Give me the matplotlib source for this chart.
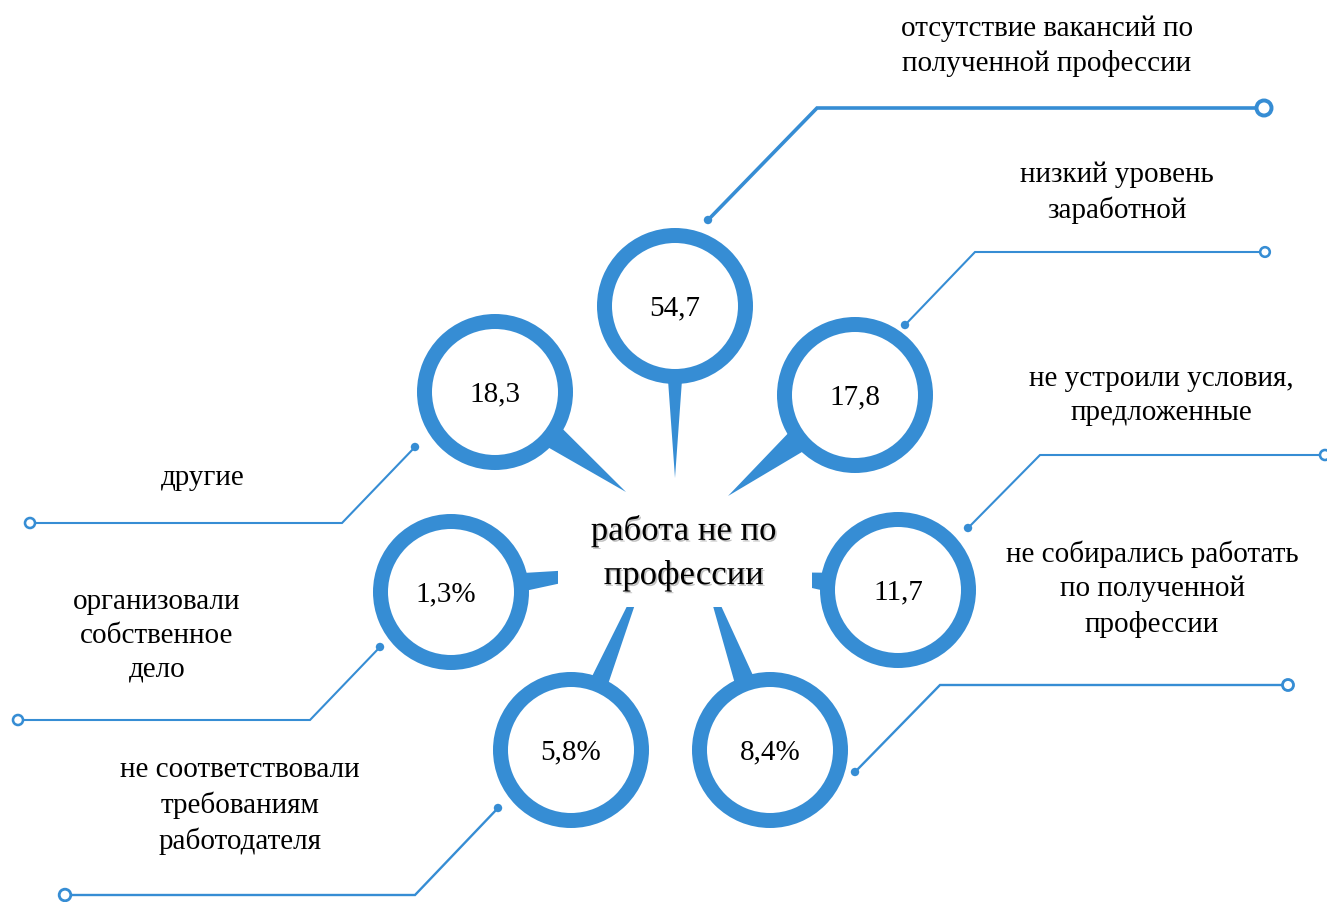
import matplotlib

matplotlib.use("Agg")
import matplotlib.pyplot as plt
import matplotlib.patheffects as pe
from matplotlib.patches import Circle, Polygon, Rectangle, Wedge
import numpy as np

# data: share of respondents (%) by reason for working outside their profession
reasons = [
    "отсутствие вакансий по\nполученной профессии",
    "низкий уровень\nзаработной",
    "не устроили условия,\nпредложенные",
    "не собирались работать\nпо полученной\nпрофессии",
    "другие",
    "организовали\nсобственное\nдело",
    "не соответствовали\nтребованиям\nработодателя",
]
values = [54.7, 17.8, 11.7, 8.4, 18.3, 1.3, 5.8]
with_pct = [False, False, False, True, False, True, True]
center_title = "работа не по\nпрофессии"

# layout (pixel space, y down): ring centre, pointer tip, pointer half-width
ring_xy = [(675, 306), (855, 395), (898, 590), (770, 750), (495, 392), (451, 592), (571, 750)]
tip_xy = [(675, 478), (728, 496), (740, 572), (700, 560), (626, 492), (640, 566), (650, 560)]
tip_hw = [7, 12, 9, 10, 12, 9, 9]
value_dx = [0, 0, 0, 0, 0, -5, 0]
# callout: dot on ring, elbow, end of horizontal
call_dot = [(708, 220), (905, 325), (968, 528), (855, 772), (415, 447), (380, 647), (498, 808)]
call_elbow = [(817, 108), (975, 252), (1040, 455), (940, 685), (342, 523), (310, 720), (415, 895)]
call_end = [(1264, 108), (1265, 252), (1325, 455), (1288, 685), (30, 523), (18, 720), (65, 895)]
end_r = [7.5, 4.8, 5, 5.5, 5, 5, 5.8]
line_w = [2.6, 1.5, 1.5, 1.7, 1.5, 1.5, 1.7]
label_xy = [(1047, 46), (1117, 193), (1161, 396), (1152, 589), (203, 478), (157, 636), (240, 806)]

BLUE = "#368dd4"
R_OUT, RING_W = 78, 15
W, H = 1327, 902

plt.rcParams["font.family"] = ["Liberation Serif", "DejaVu Serif"]

fig = plt.figure(figsize=(W / 100, H / 100), dpi=100)
ax = fig.add_axes([0, 0, 1, 1])
ax.set_xlim(0, W)
ax.set_ylim(H, 0)
ax.set_aspect("equal")
ax.axis("off")

for i, val in enumerate(values):
    cx, cy = ring_xy[i]
    tx, ty = tip_xy[i]
    d = np.array([tx - cx, ty - cy], dtype=float)
    d /= np.hypot(*d)
    perp = np.array([-d[1], d[0]])
    base = np.array([cx, cy]) + d * (R_OUT - 4)
    hw = tip_hw[i]
    ax.add_patch(Polygon([base + perp * hw, base - perp * hw, (tx, ty)],
                         closed=True, color=BLUE, lw=0, zorder=2))
    ax.add_patch(Wedge((cx, cy), R_OUT, 0, 360, width=RING_W, color=BLUE, lw=0, zorder=3))
    ax.add_patch(Circle((cx, cy), R_OUT - RING_W, color="white", lw=0, zorder=2.5))
    txt = f"{val:.1f}".replace(".", ",") + ("%" if with_pct[i] else "")
    ax.text(cx + value_dx[i], cy + 2, txt, ha="center", va="center", fontsize=21, zorder=4)

    # callout line
    (x0, y0), (x1, y1), (x2, y2) = call_dot[i], call_elbow[i], call_end[i]
    ax.plot([x0, x1, x2], [y0, y1, y2], color=BLUE, lw=line_w[i],
            solid_capstyle="butt", solid_joinstyle="miter", zorder=2)
    ax.add_patch(Circle((x0, y0), 4.2, color=BLUE, lw=0, zorder=3))
    ax.add_patch(Circle((x2, y2), end_r[i], facecolor="white", edgecolor=BLUE,
                        lw=line_w[i] * 0.9 + 0.5, zorder=3))

    lx, ly = label_xy[i]
    ax.text(lx, ly, reasons[i], ha="center", va="center", fontsize=21,
            linespacing=1.4, zorder=4)

# white panel behind the centre caption clips the pointers
ax.add_patch(Rectangle((558, 500), 254, 107, color="white", lw=0, zorder=2.8))
ax.text(684, 553, center_title, ha="center", va="center", fontsize=25,
        linespacing=1.45, zorder=5,
        path_effects=[pe.withSimplePatchShadow(offset=(1.2, -1.2), alpha=0.35,
                                               shadow_rgbFace="#555555")])

fig.savefig("out.png", dpi=100)
